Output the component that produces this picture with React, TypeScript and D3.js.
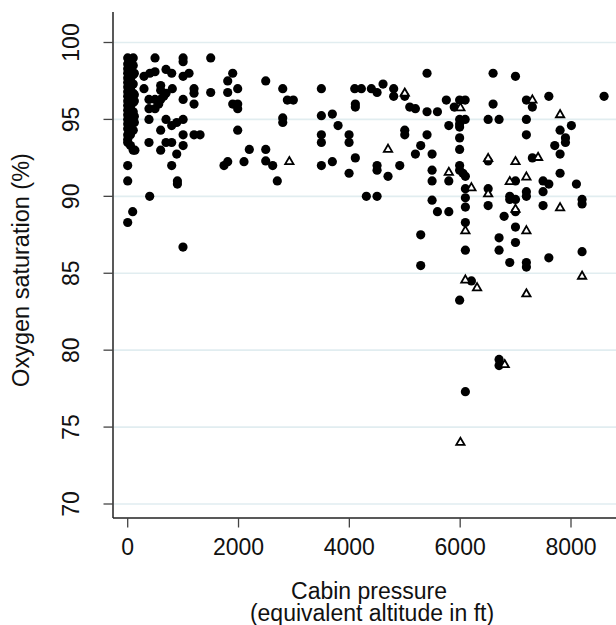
import React from "react";
import * as d3 from "d3";

const W = 616;
const H = 625;

const yTicks = [70, 75, 80, 85, 90, 95, 100];
const xTicks = [0, 2000, 4000, 6000, 8000];
const xTitle1 = "Cabin pressure";
const xTitle2 = "(equivalent altitude in ft)";
const yTitle = "Oxygen saturation (%)";

// filled circles: [cabin altitude ft, oxygen saturation %]
const nearGround: [number, number][] = [
  [0, 99.0], [0, 98.6], [0, 98.3], [0, 98.0], [0, 97.7], [0, 97.4], [0, 97.1], [0, 96.8],
  [0, 96.5], [0, 96.2], [0, 95.9], [0, 95.6], [0, 95.3], [0, 95.0], [0, 94.7], [0, 94.4],
  [0, 94.0], [0, 93.7], [0, 93.5], [0, 92.0], [0, 91.0], [0, 88.3],
  [50, 98.9], [50, 98.2], [50, 97.6], [50, 97.0], [50, 96.4], [50, 95.8], [50, 95.2],
  [50, 94.6], [50, 94.0], [50, 93.3],
  [100, 99.0], [100, 98.5], [100, 97.9], [100, 97.3], [100, 96.7], [100, 96.1], [100, 95.5],
  [100, 94.9], [100, 94.3], [100, 93.0], [90, 89.0],
  [120, 98.0], [120, 96.6], [120, 96.2], [120, 95.2], [120, 94.8], [130, 93.0],
];

const lowAltitude: [number, number][] = [
  [397, 90.0], [998, 86.7], [493, 99.0], [1000, 99.0], [1000, 98.75], [1498, 99.0],
  [294, 97.8], [400, 98.0], [493, 98.1], [691, 98.25], [794, 98.0], [1000, 97.8], [1107, 98.0],
  [294, 97.0], [384, 96.3], [384, 95.7], [493, 96.3], [493, 95.7],
  [595, 97.2], [595, 96.9], [691, 96.7], [650, 96.5], [595, 96.3], [560, 96.0],
  [805, 97.0], [1197, 97.0], [1197, 96.7], [1000, 96.3], [1197, 96.0], [1498, 96.75],
  [384, 95.0], [691, 95.0], [794, 94.6], [885, 94.8], [1000, 95.0], [595, 94.3],
  [1000, 94.0], [1197, 94.0], [1306, 94.0],
  [384, 93.5], [691, 93.5], [794, 93.5], [595, 93.0], [1000, 93.3], [885, 92.75],
  [794, 92.0], [897, 91.0], [897, 90.8],
  [1805, 97.5], [1895, 98.0], [1805, 96.75], [1985, 97.0], [1895, 96.0], [1985, 96.0],
  [1985, 95.7], [1985, 94.3], [1738, 92.0], [1805, 92.25], [2099, 92.25], [2195, 93.05],
  [2491, 97.5], [2491, 93.05], [2491, 92.3], [2617, 92.0], [2700, 91.0], [2798, 97.0],
  [2798, 95.1], [2798, 94.8], [2881, 96.26], [2989, 96.26],
];

const highAltitude: [number, number][] = [
  [3495, 97.0], [3495, 95.24], [3693, 95.35], [3796, 94.6], [3495, 94.0], [3495, 93.5],
  [3995, 94.0], [3995, 93.5], [3495, 92.0], [3693, 92.25], [3995, 91.5], [4108, 92.5],
  [4108, 96.0], [4108, 95.8], [4097, 97.0], [4217, 97.0], [4397, 97.0], [4500, 96.75],
  [4608, 97.3], [4800, 97.0], [4800, 96.5], [5000, 96.5], [5000, 94.3], [5000, 94.0],
  [4500, 92.0], [4500, 91.7], [4698, 91.3], [4910, 92.0], [4307, 90.0], [4500, 90.0],
  [5090, 95.8], [5192, 95.7], [5402, 98.0], [5402, 95.5], [5590, 95.5], [5750, 96.26],
  [5893, 95.8], [5990, 96.26], [6090, 96.26], [5990, 95.0], [6090, 95.0], [5990, 94.7],
  [5990, 94.5], [5402, 94.0], [5288, 93.3], [5192, 92.75], [5493, 92.75], [5493, 91.7],
  [5493, 91.0], [5493, 89.75], [5590, 89.0], [5795, 89.0], [5795, 91.0], [5795, 94.6],
  [5288, 87.5], [5288, 85.5], [5990, 93.8], [5990, 93.05], [5990, 92.0], [5990, 91.7],
  [6050, 91.5], [6094, 91.3], [6094, 90.5], [6094, 89.9], [6094, 89.3], [6094, 88.3],
  [6094, 86.5], [6203, 84.5], [5990, 83.25], [6505, 95.0], [6702, 95.0], [6594, 98.0],
  [6594, 96.0], [6998, 97.8], [6505, 92.3], [6505, 90.5], [6505, 89.4], [6702, 87.3],
  [6702, 86.5], [6793, 88.7], [6998, 91.0], [6895, 90.0], [6998, 89.8], [6895, 89.8],
  [6998, 89.0], [6998, 88.0], [6998, 87.0], [6895, 85.7], [7195, 85.7], [7195, 85.4],
  [7195, 96.26], [7303, 95.8], [7600, 96.5], [7195, 95.0], [7195, 94.0], [7195, 90.3],
  [7195, 90.0], [7303, 92.5], [7496, 91.0], [7600, 90.8], [7496, 90.3], [7496, 89.4],
  [7600, 86.0], [7707, 93.3], [7803, 94.3], [7900, 93.8], [7900, 93.5], [8007, 94.6],
  [7803, 92.75], [7803, 91.5], [8098, 90.8], [8200, 89.8], [8200, 89.5], [8200, 86.4],
  [8597, 96.5], [6702, 79.4], [6702, 79.0], [6094, 77.3],
];

// hollow triangles
const triangles: [number, number][] = [
  [2917, 92.3], [5000, 96.75], [4698, 93.1], [6004, 95.8], [5795, 91.6], [6203, 90.6],
  [6094, 87.8], [6094, 84.6], [6305, 84.1], [6505, 92.5], [6505, 90.2], [6895, 91.0],
  [6998, 92.3], [6998, 89.2], [7195, 87.8], [7195, 83.7], [7303, 96.3], [7195, 91.3],
  [7406, 92.57], [7803, 95.35], [7803, 89.3], [8200, 84.85], [6804, 79.1], [6004, 74.05],
];

const FONT = "'Liberation Sans', Arial, sans-serif";

export default function App() {
  const x = d3.scaleLinear().domain([0, 8000]).range([127.7, 571]);
  const y = d3.scaleLinear().domain([70, 100]).range([504, 42.5]);
  const axisX = 113;
  const axisY = 518;
  const circles = [...nearGround, ...lowAltitude, ...highAltitude];
  const tri = d3.symbol().type(d3.symbolTriangle).size(30);

  return (
    <svg
      width={W}
      height={H}
      style={{ position: "absolute", left: 0, top: 0, background: "#fff" }}
      fontFamily={FONT}
    >
      <rect x={0} y={0} width={W} height={H} fill="#fff" />
      {yTicks.map((t) => (
        <line key={"g" + t} x1={axisX + 1} x2={W} y1={y(t)} y2={y(t)} stroke="#e1edf0" strokeWidth={1.6} />
      ))}
      {circles.map((d, i) => (
        <circle key={"c" + i} cx={x(d[0])} cy={y(d[1])} r={4.6} fill="#000" />
      ))}
      {triangles.map((d, i) => (
        <path
          key={"t" + i}
          d={tri() as string}
          transform={`translate(${x(d[0])},${y(d[1]) + 0.8})`}
          fill="#fff"
          stroke="#000"
          strokeWidth={1.8}
        />
      ))}
      <line x1={axisX} x2={axisX} y1={12} y2={axisY} stroke="#222" strokeWidth={1.5} />
      <line x1={axisX} x2={W} y1={axisY} y2={axisY} stroke="#222" strokeWidth={1.5} />
      {yTicks.map((t) => (
        <g key={"yt" + t}>
          <line x1={103.5} x2={axisX} y1={y(t)} y2={y(t)} stroke="#444" strokeWidth={1.3} />
          <text
            transform={`translate(78.5,${y(t)}) rotate(-90)`}
            textAnchor="middle"
            fontSize={23}
            fill="#111"
          >
            {t}
          </text>
        </g>
      ))}
      {xTicks.map((t) => (
        <g key={"xt" + t}>
          <line x1={x(t)} x2={x(t)} y1={axisY} y2={527.5} stroke="#444" strokeWidth={1.3} />
          <text x={x(t)} y={555} textAnchor="middle" fontSize={23} fill="#111">
            {t}
          </text>
        </g>
      ))}
      <text textAnchor="middle" fontSize={23} fill="#111">
        <tspan x={369} y={599}>{xTitle1}</tspan>
        <tspan x={372} y={621}>{xTitle2}</tspan>
      </text>
      <text
        transform={`translate(29,270) rotate(-90)`}
        textAnchor="middle"
        fontSize={23.5}
        fill="#111"
      >
        {yTitle}
      </text>
    </svg>
  );
}
